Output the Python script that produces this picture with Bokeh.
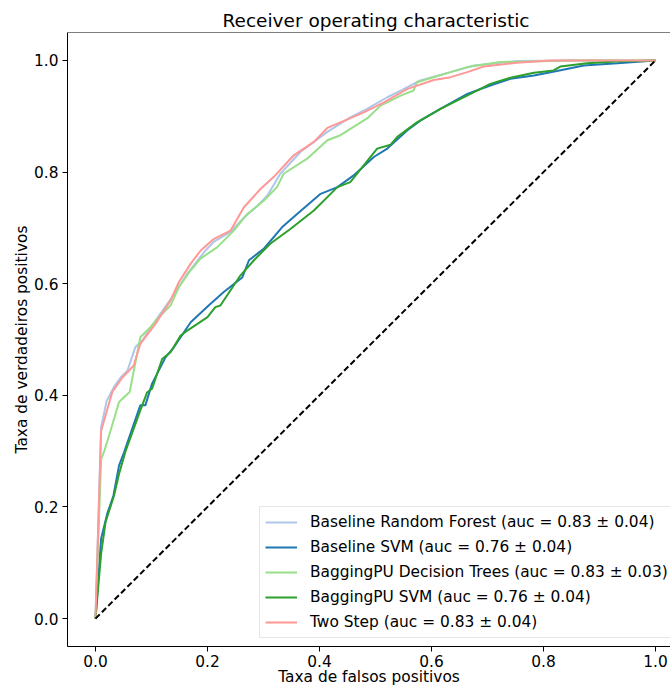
from bokeh.plotting import figure
from bokeh.models import Range1d, FixedTicker, Legend, LegendItem, Span, PrintfTickFormatter
from bokeh.embed import file_html
from bokeh.resources import INLINE

# ---- data ----
tick_values = [0.0, 0.2, 0.4, 0.6, 0.8, 1.0]

rf_fpr = [0, 0.010, 0.020, 0.033, 0.045, 0.057, 0.071, 0.085, 0.101, 0.122, 0.137, 0.164, 0.196,
          0.211, 0.241, 0.265, 0.290, 0.307, 0.330, 0.366, 0.414, 0.455, 0.485, 0.521, 0.545,
          0.580, 0.634, 0.676, 0.753, 0.85, 1.0]
rf_tpr = [0, 0.343, 0.390, 0.415, 0.432, 0.444, 0.486, 0.500, 0.525, 0.555, 0.576, 0.618, 0.659,
          0.675, 0.693, 0.718, 0.740, 0.758, 0.797, 0.836, 0.872, 0.898, 0.913, 0.934, 0.946,
          0.964, 0.979, 0.991, 0.999, 1.0, 1.0]

svm_fpr = [0, 0.010, 0.021, 0.032, 0.042, 0.051, 0.080, 0.089, 0.101, 0.125, 0.140, 0.170, 0.202,
           0.229, 0.262, 0.274, 0.301, 0.333, 0.360, 0.402, 0.432, 0.461, 0.497, 0.521, 0.557,
           0.580, 0.616, 0.664, 0.705, 0.741, 0.783, 0.824, 0.872, 0.932, 1.0]
svm_tpr = [0, 0.143, 0.188, 0.220, 0.274, 0.298, 0.382, 0.382, 0.421, 0.468, 0.486, 0.531, 0.561,
           0.585, 0.611, 0.642, 0.663, 0.701, 0.725, 0.761, 0.773, 0.794, 0.827, 0.842, 0.875,
           0.892, 0.913, 0.940, 0.955, 0.967, 0.973, 0.981, 0.991, 0.995, 1.0]

dt_fpr = [0, 0.010, 0.016, 0.027, 0.042, 0.061, 0.080, 0.098, 0.116, 0.134, 0.149, 0.170, 0.1875,
          0.217, 0.247, 0.271, 0.301, 0.324, 0.336, 0.378, 0.414, 0.4375, 0.485, 0.509, 0.545,
          0.568, 0.574, 0.634, 0.664, 0.723, 0.85, 1.0]
dt_tpr = [0, 0.285, 0.301, 0.337, 0.388, 0.406, 0.504, 0.522, 0.543, 0.561, 0.594, 0.624, 0.645,
          0.665, 0.695, 0.725, 0.749, 0.773, 0.797, 0.824, 0.857, 0.866, 0.896, 0.919, 0.937,
          0.946, 0.961, 0.979, 0.988, 0.997, 1.0, 1.0]

bsvm_fpr = [0, 0.010, 0.018, 0.033, 0.042, 0.054, 0.080, 0.092, 0.101, 0.119, 0.134, 0.152, 0.164,
            0.200, 0.214, 0.223, 0.259, 0.283, 0.3125, 0.348, 0.390, 0.432, 0.455, 0.479, 0.503,
            0.527, 0.539, 0.574, 0.616, 0.676, 0.705, 0.741, 0.783, 0.818, 0.830, 0.878, 0.93, 1.0]
bsvm_tpr = [0, 0.116, 0.173, 0.220, 0.259, 0.301, 0.373, 0.405, 0.412, 0.465, 0.477, 0.507, 0.516,
            0.540, 0.558, 0.561, 0.615, 0.642, 0.672, 0.698, 0.731, 0.773, 0.782, 0.812, 0.842,
            0.849, 0.863, 0.889, 0.913, 0.943, 0.958, 0.969, 0.978, 0.982, 0.989, 0.995, 0.998, 1.0]

two_fpr = [0, 0.010, 0.030, 0.048, 0.068, 0.080, 0.107, 0.134, 0.149, 0.170, 0.1875, 0.211, 0.241,
           0.265, 0.295, 0.318, 0.354, 0.390, 0.414, 0.449, 0.479, 0.515, 0.557, 0.604, 0.634,
           0.664, 0.693, 0.753, 0.8125, 1.0]
two_tpr = [0, 0.336, 0.406, 0.432, 0.453, 0.492, 0.528, 0.570, 0.603, 0.636, 0.659, 0.680, 0.695,
           0.737, 0.770, 0.791, 0.830, 0.854, 0.879, 0.894, 0.907, 0.925, 0.949, 0.965, 0.970,
           0.979, 0.989, 0.996, 1.0, 1.0]

chance_x = [0.0, 1.0]
chance_y = [0.0, 1.0]

labels = [
    "Baseline Random Forest (auc = 0.83 \u00b1 0.04)",
    "Baseline SVM (auc = 0.76 \u00b1 0.04)",
    "BaggingPU Decision Trees (auc = 0.83 \u00b1 0.03)",
    "BaggingPU SVM (auc = 0.76 \u00b1 0.04)",
    "Two Step (auc = 0.83 \u00b1 0.04)",
]
colors = ["#aec7e8", "#1f77b4", "#98df8a", "#2ca02c", "#ff9896"]
series = [(rf_fpr, rf_tpr), (svm_fpr, svm_tpr), (dt_fpr, dt_tpr), (bsvm_fpr, bsvm_tpr), (two_fpr, two_tpr)]

FONT = "DejaVu Sans"

p = figure(width=670, height=688,
           x_range=Range1d(-0.05, 1.0268), y_range=Range1d(-0.05, 1.05),
           output_backend="svg", toolbar_location=None,
           min_border_left=67, min_border_right=0, min_border_top=32, min_border_bottom=0,
           title="Receiver operating characteristic")

p.title.align = "left"
p.title.offset = 155
p.title.standoff = 4
p.title.text_font = FONT
p.title.text_font_size = "18.5px"
p.title.text_font_style = "normal"
p.title.text_color = "black"

p.xgrid.visible = False
p.ygrid.visible = False
p.outline_line_color = None
p.background_fill_color = "white"
p.border_fill_color = "white"

for ax in (p.xaxis[0], p.yaxis[0]):
    ax.ticker = FixedTicker(ticks=tick_values)
    ax.formatter = PrintfTickFormatter(format="%.1f")
    ax.major_tick_out = 5
    ax.major_tick_in = 0
    ax.minor_tick_line_color = None
    ax.axis_line_color = "black"
    ax.axis_line_width = 1
    ax.major_tick_line_color = "black"
    ax.major_label_text_font = FONT
    ax.major_label_text_font_size = "15.4px"
    ax.major_label_text_color = "black"
    ax.axis_label_text_font = FONT
    ax.axis_label_text_font_size = "15.4px"
    ax.axis_label_text_font_style = "normal"
    ax.axis_label_text_color = "black"

p.xaxis.axis_label = "Taxa de falsos positivos"
p.yaxis.axis_label = "Taxa de verdadeiros positivos"
p.xaxis.major_label_standoff = 3
p.xaxis.axis_label_standoff = -2
p.yaxis.major_label_standoff = 4
p.yaxis.axis_label_standoff = 0

p.add_layout(Span(location=p.y_range.end, dimension="width", line_color="black", line_width=1))

items = []
for (fx, ty), c, lab in zip(series, colors, labels):
    r = p.line(fx, ty, line_color=c, line_width=2)
    items.append(LegendItem(label=lab, renderers=[r]))

p.line(chance_x, chance_y, line_color="black", line_width=2, line_dash="6 3")

legend = Legend(items=items, location=(192, 8),
                label_text_font=FONT, label_text_font_size="15.4px", label_text_color="black",
                glyph_width=32, glyph_height=20, label_height=20, label_standoff=13,
                spacing=5, padding=5, margin=0,
                border_line_color="#cccccc", border_line_width=1,
                background_fill_color="white", background_fill_alpha=0.8)
p.add_layout(legend, "center")

open("out.html", "w").write(file_html(p, INLINE))
